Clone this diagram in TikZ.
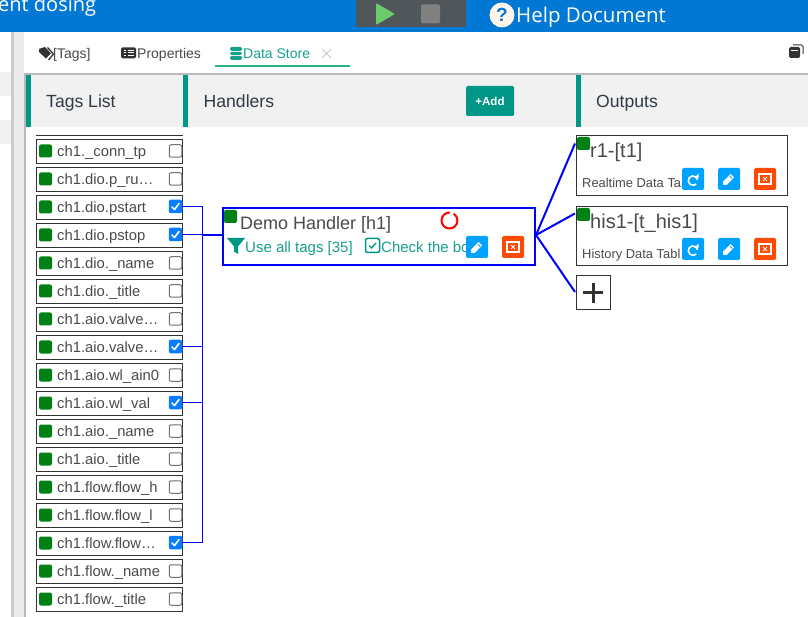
\documentclass[tikz,border=0pt]{standalone}
\usepackage{fontspec}
\setmainfont{Liberation Sans}
\newfontfamily\uifont{Open Sans}
\definecolor{topblue}{HTML}{0078D4}
\definecolor{teal1}{HTML}{009688}
\definecolor{teal2}{HTML}{17A08D}
\definecolor{band}{HTML}{F1F1F1}
\definecolor{okgreen}{HTML}{008015}
\definecolor{linkblue}{HTML}{0000FF}
\definecolor{cbblue}{HTML}{0A7CFF}
\definecolor{btnblue}{HTML}{00A2FF}
\definecolor{btnred}{HTML}{FF4A00}
\definecolor{txt}{HTML}{4A4A4A}
\definecolor{head}{HTML}{2F3A45}
\definecolor{edge}{HTML}{333333}
\definecolor{toolbg}{HTML}{50565A}
\definecolor{playgreen}{HTML}{6CCB6C}
\definecolor{tabgreen}{HTML}{27B67F}
\definecolor{cbgray}{HTML}{707070}
\tikzset{
  x=1pt,y=-1pt,
  lab/.style={anchor=base west,inner sep=0pt,text=txt},
  rowbox/.style={draw=edge,line width=1pt,minimum width=146.6pt,minimum height=24pt,inner sep=0pt},
  led/.style={fill=okgreen,rounded corners=2pt,minimum size=13pt,inner sep=0pt},
  uncheck/.style={draw=cbgray,fill=white,line width=1pt,rounded corners=2pt,minimum size=12.5pt,inner sep=0pt},
  ischeck/.style={fill=cbblue,rounded corners=2pt,minimum size=13.5pt,inner sep=0pt},
  bus/.style={draw=linkblue,line width=1pt},
  fan/.style={draw=linkblue,line width=2pt},
  btn/.style={rounded corners=1.5pt,minimum size=22pt,inner sep=0pt},
  card/.style={draw=edge,line width=1pt,inner sep=0pt},
  tealbar/.style={fill=teal1},
  whitecheck/.style={draw=white,line width=1.6pt,line cap=round,line join=round},
}
\newcommand{\tagrow}[3]{%
  \pgfmathsetmacro{\ry}{151+28*#1}
  \node[rowbox] (row#1) at (109.5,\ry+0.5) {};
  \node[led] (led#1) at (45.5,\ry) {};
  \node[lab,font=\fontsize{14.8}{16}\selectfont] (txt#1) at (57,\ry+5.6) {#2};
  \ifnum#3=1
    \node[ischeck] (cb#1) at (175.5,\ry-0.5) {};
    \draw[whitecheck] ($(cb#1)+(-3.5,0.5)$) -- ($(cb#1)+(-1,3)$) -- ($(cb#1)+(3.5,-3)$);
  \else
    \node[uncheck] (cb#1) at (175.5,\ry) {};
  \fi
}
\newcommand{\penbtn}[3]{%
  \node[btn,fill=btnblue] (#1) at (#2,#3) {};
  \fill[white] ($(#1)+(-6,6)$) -- ($(#1)+(-6,2.5)$) -- ($(#1)+(1.5,-5)$) -- ($(#1)+(5,-1.5)$) -- ($(#1)+(-2.5,6)$) -- cycle;
  \draw[btnblue,line width=0.8pt] ($(#1)+(1,-2.8)$) -- ($(#1)+(3.4,-0.4)$);
}
\newcommand{\delbtn}[3]{%
  \node[btn,fill=btnred] (#1) at (#2,#3) {};
  \draw[white,line width=1.1pt] ($(#1)+(-6,-5)$) rectangle ($(#1)+(6,5)$);
  \draw[white,line width=1pt] ($(#1)+(-2,-2)$) -- ($(#1)+(2,2)$) ($(#1)+(-2,2)$) -- ($(#1)+(2,-2)$);
}
\newcommand{\refbtn}[3]{%
  \node[btn,fill=btnblue] (#1) at (#2,#3) {};
  \draw[white,line width=1.6pt] ($(#1)+(4.6,0.8)$) arc[start angle=10,end angle=315,radius=4.7pt];
  \fill[white] ($(#1)+(5.5,-5.5)$) -- ($(#1)+(5.5,-1)$) -- ($(#1)+(1,-1)$) -- cycle;
}
\usetikzlibrary{calc}
\begin{document}
\begin{tikzpicture}
\useasboundingbox (0,0) rectangle (808,617);
\fill[white] (0,0) rectangle (808,617);
% sidebar
\fill[band] (0,72) rectangle (11,96);
\fill[band] (0,120) rectangle (11,144);
\fill[gray!40] (11,32) rectangle (13.5,617);
\fill[black!8] (13.5,32) rectangle (24,617);
\fill[white] (24,32) rectangle (808,617);
\fill[gray!55] (24,73) rectangle (26,617);
\fill[gray!55] (24,73) rectangle (808,75);
% top bar
\fill[topblue] (0,0) rectangle (808,32);
\begin{scope}
  \clip (0,0) rectangle (808,32);
  \node[lab,text=white,font=\uifont\fontsize{20}{24}\selectfont] (title) at (-2,12) {ent dosing};
\end{scope}
\node[fill=toolbg,minimum width=110pt,minimum height=27pt,inner sep=0pt] (tools) at (411,13.5) {};
\fill[playgreen,rounded corners=1pt] (376,3) -- (395,14) -- (376,25) -- cycle;
\node[fill=gray,rounded corners=2pt,minimum size=19pt,inner sep=0pt] (stopbtn) at (430.5,14) {};
\node[circle,fill=orange!8,minimum size=25pt,inner sep=0pt,text=topblue,font=\bfseries\fontsize{19}{19}\selectfont] (help) at (502,15) {?};
\node[lab,text=white,font=\uifont\fontsize{20.5}{24}\selectfont] (helptxt) at (516,23) {Help Document};
% tabs
\fill[edge] (39,49) -- (45,47) -- (51,53.5) -- (46,58.5) -- (39,52) -- cycle;
\draw[edge,line width=1.3pt] (47.5,47.5) -- (53.5,54) -- (48.5,60);
\node[lab,font=\fontsize{14}{16}\selectfont] (tab1) at (53,59) {[Tags]};
\node[fill=edge,rounded corners=1.5pt,minimum width=15pt,minimum height=11pt,inner sep=0pt] (listicon) at (128.5,53) {};
\draw[white,line width=1pt] (123.5,50.5) -- (125.5,50.5) (127.5,50.5) -- (134,50.5) (123.5,53) -- (125.5,53) (127.5,53) -- (134,53) (123.5,55.5) -- (125.5,55.5) (127.5,55.5) -- (134,55.5);
\node[lab,font=\fontsize{14}{16}\selectfont] (tab2) at (137,59) {Properties};
\fill[teal2,rounded corners=1.5pt] (230,47) rectangle (242,51);
\fill[teal2,rounded corners=1.5pt] (230,52) rectangle (242,55);
\fill[teal2,rounded corners=1.5pt] (230,56) rectangle (242,60);
\node[lab,text=teal2,font=\fontsize{14}{16}\selectfont] (tab3) at (243,59) {Data Store};
\draw[gray!45,line width=1pt] (322,49) -- (331,58) (322,58) -- (331,49);
\draw[tabgreen,line width=2pt] (215,66.5) -- (350,66.5);
\fill[edge,rounded corners=1.5pt] (789,47) rectangle (800,58);
\draw[edge,line width=1pt,rounded corners=1.5pt] (793,45) -- (803,45) -- (803,54);
\draw[white,line width=0.8pt] (791,50) -- (798,50);
% header band
\fill[band] (26,75) rectangle (808,127);
\fill[tealbar] (26,75) rectangle (31,127);
\fill[tealbar] (183,75) rectangle (188,127);
\fill[tealbar] (576,75) rectangle (581,127);
\node[lab,text=head,font=\fontsize{17.6}{20}\selectfont] (h1) at (46,107.8) {Tags List};
\node[lab,text=head,font=\fontsize{17.6}{20}\selectfont] (h2) at (203.5,107.8) {Handlers};
\node[lab,text=head,font=\fontsize{17.6}{20}\selectfont] (h3) at (596,107.8) {Outputs};
\node[fill=teal1,rounded corners=1.5pt,minimum width=48pt,minimum height=30pt,inner sep=0pt,text=white,font=\bfseries\fontsize{11.5}{12}\selectfont] (addbtn) at (490,101) {+Add};
% tag rows
\draw[edge,line width=1pt] (36,135.5) -- (183,135.5);
\tagrow{0}{ch1.\_conn\_tp}{0}
\tagrow{1}{ch1.dio.p\_ru…}{0}
\tagrow{2}{ch1.dio.pstart}{1}
\tagrow{3}{ch1.dio.pstop}{1}
\tagrow{4}{ch1.dio.\_name}{0}
\tagrow{5}{ch1.dio.\_title}{0}
\tagrow{6}{ch1.aio.valve…}{0}
\tagrow{7}{ch1.aio.valve…}{1}
\tagrow{8}{ch1.aio.wl\_ain0}{0}
\tagrow{9}{ch1.aio.wl\_val}{1}
\tagrow{10}{ch1.aio.\_name}{0}
\tagrow{11}{ch1.aio.\_title}{0}
\tagrow{12}{ch1.flow.flow\_h}{0}
\tagrow{13}{ch1.flow.flow\_l}{0}
\tagrow{14}{ch1.flow.flow…}{1}
\tagrow{15}{ch1.flow.\_name}{0}
\tagrow{16}{ch1.flow.\_title}{0}
% handler
\node[draw=linkblue,line width=2pt,minimum width=311.4pt,minimum height=57pt,inner sep=0pt,outer sep=0pt] (handler) at (379,236.8) {};
\node[led] (hled) at (230.5,216.5) {};
\node[lab,font=\fontsize{18}{20}\selectfont] (htitle) at (240,229.8) {Demo Handler [h1]};
\draw[red,line width=2pt] ($(449.5,220.5)+(88:8pt)$) arc[start angle=88,end angle=418,radius=8pt];
\fill[teal1] (227,238) -- (245,238) -- (238,246.5) -- (238,254) -- (234,251.5) -- (234,246.5) -- cycle;
\node[lab,text=teal2,font=\fontsize{15}{16}\selectfont] (husage) at (245,253) {Use all tags [35]};
\draw[teal1,line width=1.5pt,rounded corners=2pt] (365.5,238.5) rectangle (379.5,252.5);
\draw[teal1,line width=1.4pt] (369,245.5) -- (371.5,248) -- (376,243);
\node[lab,text=teal2,font=\fontsize{15}{16}\selectfont] (hcheck) at (381,253) {Check the bo};
\penbtn{hpen}{477}{247}
\delbtn{hdel}{513}{247}
% outputs
\node[card,minimum width=211pt,minimum height=60pt] (out1) at (681.5,165.5) {};
\node[led] (oled1) at (583.5,143.5) {};
\node[lab,font=\fontsize{20}{22}\selectfont] (otitle1) at (590,157.8) {r1-[t1]};
\node[lab,font=\fontsize{12.9}{14}\selectfont] (osub1) at (582,188) {Realtime Data Ta};
\refbtn{oref1}{693}{179}
\penbtn{open1}{729}{179}
\delbtn{odel1}{765}{179}
\node[card,minimum width=211pt,minimum height=59pt] (out2) at (681.5,236) {};
\node[led] (oled2) at (583.5,214.5) {};
\node[lab,font=\fontsize{20}{22}\selectfont] (otitle2) at (590,228.8) {his1-[t\_his1]};
\node[lab,font=\fontsize{12.9}{14}\selectfont] (osub2) at (582,259) {History Data Tabl};
\refbtn{oref2}{693}{249}
\penbtn{open2}{729}{249}
\delbtn{odel2}{765}{249}
\node[card,minimum size=34pt] (addout) at (593,293) {};
\draw[edge,line width=3pt] ($(addout)+(-10,0)$) -- ($(addout)+(10,0)$) ($(addout)+(0,-10)$) -- ($(addout)+(0,10)$);
% connectors
\coordinate (bustop) at (202.5,206);
\coordinate (busbot) at (202.5,543);
\coordinate (busmid) at (202.5,235);
\coordinate (fanhub) at (536,235);
\draw[bus] (bustop) -- (busbot);
\foreach \n in {2,3,7,9,14}{
  \draw[bus] (cb\n.east) -- (cb\n.east -| bustop);
}
\draw[fan] (busmid) -- (handler.west |- busmid);
\coordinate (fan1) at (575,143.5);
\coordinate (fan2) at (575,213.5);
\coordinate (fan3) at (575,292);
\draw[fan] (fanhub) -- (fan1);
\draw[fan] (fanhub) -- (fan2);
\draw[fan] (fanhub) -- (fan3);
\end{tikzpicture}
\end{document}
